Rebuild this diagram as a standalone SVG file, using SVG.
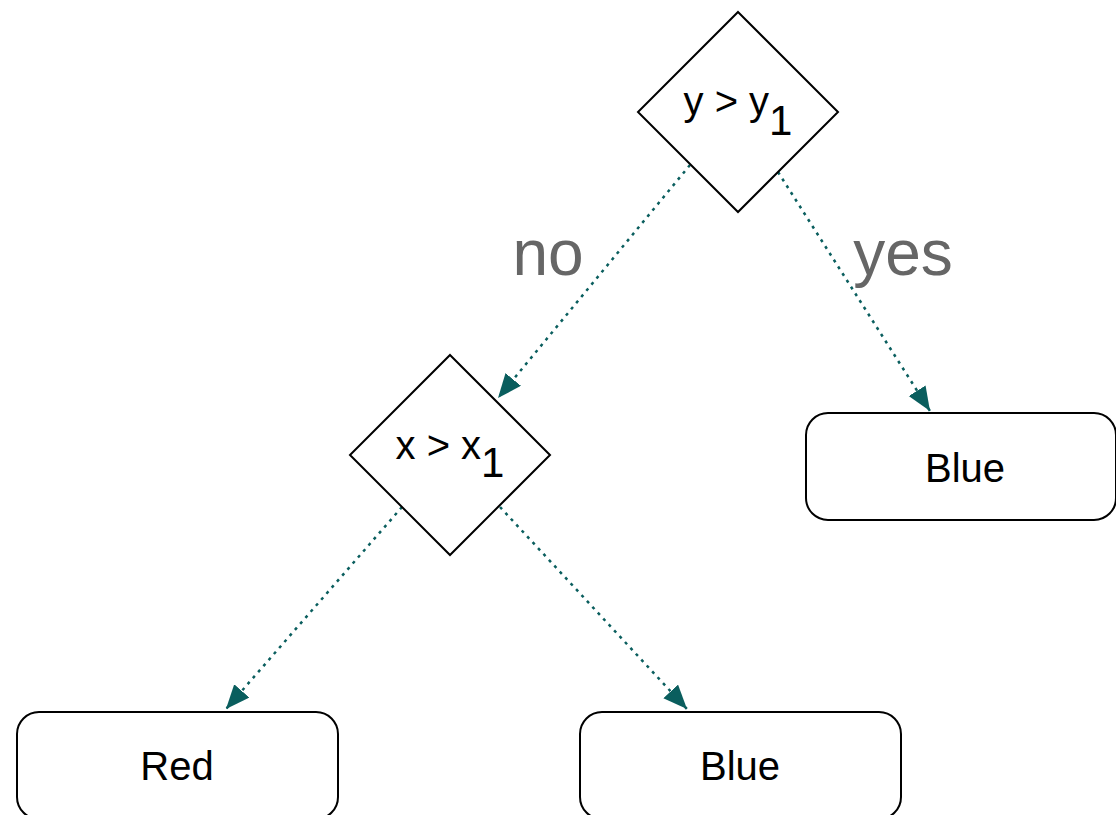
<svg xmlns="http://www.w3.org/2000/svg" width="1116" height="815" viewBox="0 0 1116 815">
<style>
.shape{fill:#fff;stroke:#000;stroke-width:2}
.t{font-family:"Liberation Sans",Arial,sans-serif;font-size:40px;fill:#000;text-anchor:middle}
.sub{font-size:42px}
.lbl{font-family:"Liberation Sans",Arial,sans-serif;font-size:64px;fill:#666;text-anchor:middle}
.c{stroke:#0a5e5e;stroke-width:2.5;stroke-dasharray:3 5;fill:none;marker-end:url(#ah)}
</style>
<defs>
<marker id="ah" markerUnits="userSpaceOnUse" markerWidth="26" markerHeight="22" refX="24" refY="10" orient="auto">
<path d="M0,0 L24,10 L0,20 z" fill="#0a5e5e"/>
</marker>
</defs>
<rect width="1116" height="815" fill="#fff"/>
<g id="connectors">
<line class="c" x1="690" y1="165" x2="498" y2="398"/>
<line class="c" x1="778" y1="172" x2="930" y2="411"/>
<line class="c" x1="402" y1="507" x2="226" y2="709"/>
<line class="c" x1="500" y1="507" x2="687" y2="709"/>
</g>
<g id="label-no"><text class="lbl" x="548" y="275">no</text></g>
<g id="label-yes"><text class="lbl" x="903" y="275">yes</text></g>
<g id="node-y">
<path class="shape" d="M738,12 L838,112 L738,212 L638,112 Z"/>
<text class="t" x="738" y="115">y &gt; y<tspan class="sub" dy="20">1</tspan></text>
</g>
<g id="node-x">
<path class="shape" d="M450,355 L550,455 L450,555 L350,455 Z"/>
<text class="t" x="450" y="459">x &gt; x<tspan class="sub" dy="18">1</tspan></text>
</g>
<g id="node-blue-right">
<rect class="shape" x="806" y="413" width="310" height="107" rx="22"/>
<text class="t" x="965" y="482">Blue</text>
</g>
<g id="node-red">
<rect class="shape" x="17" y="712" width="321" height="107" rx="22"/>
<text class="t" x="177" y="780">Red</text>
</g>
<g id="node-blue-bottom">
<rect class="shape" x="580" y="712" width="321" height="107" rx="22"/>
<text class="t" x="740" y="780">Blue</text>
</g>
</svg>
